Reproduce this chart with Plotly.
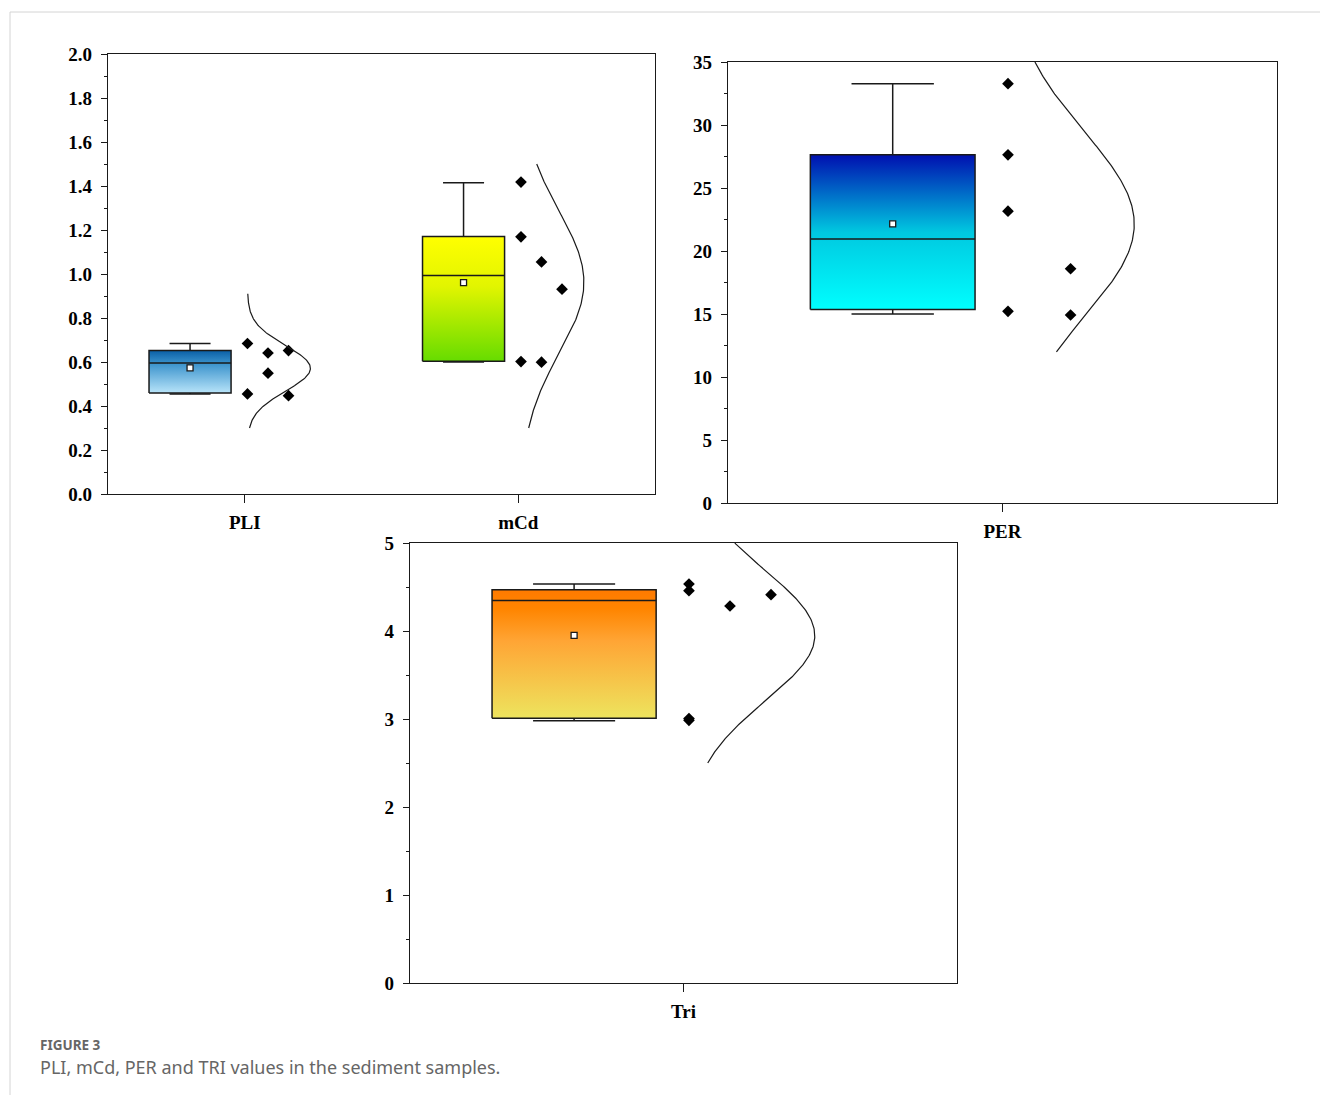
import numpy as np
import plotly.graph_objects as go

# ---------------- data ----------------
categories_top = ["PLI", "mCd"]
PLI = [0.684, 0.455, 0.641, 0.549, 0.652, 0.447]
mCd = [1.418, 1.169, 0.602, 1.055, 0.599, 0.931]
PER = [33.28, 27.63, 23.16, 15.21, 18.59, 14.92]
TRI = [4.534, 4.458, 3.005, 2.985, 4.284, 4.413]

# box statistics as drawn in the reference
box_names = ["PLI", "mCd", "PER", "Tri"]
box_q1 = [0.459, 0.603, 15.35, 3.008]
box_median = [0.596, 0.993, 20.95, 4.348]
box_q3 = [0.652, 1.171, 27.63, 4.47]
box_low = [0.455, 0.600, 15.0, 2.98]
box_high = [0.684, 1.415, 33.28, 4.534]
box_mean = [0.573, 0.961, 22.16, 3.95]

# y-extent of the normal curves
curve_lo = [0.3, 0.3, 12.0, 2.5]
curve_hi = [0.91, 1.5, 35.0, 5.0]

ticks_top = [0.0, 0.2, 0.4, 0.6, 0.8, 1.0, 1.2, 1.4, 1.6, 1.8, 2.0]
ticks_per = [0, 5, 10, 15, 20, 25, 30, 35]
ticks_tri = [0, 1, 2, 3, 4, 5]

# ---------------- layout / styling ----------------
W, H = 1320, 1095
BOX_W = 0.30
BOX_SHIFT = -0.20
PT_COLS_STD = [0.01, 0.085, 0.16]
PT_COLS_PER = [0.01, 0.124]
CURVE_BASE = 0.01
CURVE_AMP = 0.23

gradients = [
    [[0, "#b8e4f9"], [0.7, "#3a92cc"], [1, "#0a5fa6"]],
    [[0, "#66dc00"], [0.6, "#e2f500"], [1, "#ffff00"]],
    [[0, "#00ffff"], [0.5, "#00c8e0"], [1, "#0010b0"]],
    [[0, "#ede45e"], [0.6, "#ffa535"], [0.85, "#ff8500"], [1, "#ff7a00"]],
]

# which column each point falls into (layout only)
point_cols = [
    [0, 0, 1, 1, 2, 2],
    [0, 0, 0, 1, 1, 2],
    [0, 0, 0, 0, 1, 1],
    [0, 0, 0, 0, 1, 2],
]

series = [PLI, mCd, PER, TRI]
positions = [0, 1, 0, 0]
axes = [("x", "y"), ("x", "y"), ("x2", "y2"), ("x3", "y3")]
col_offsets = [PT_COLS_STD, PT_COLS_STD, PT_COLS_PER, PT_COLS_STD]

fig = go.Figure()
LINE = dict(color="#1a1a1a", width=1.5)

for i in range(4):
    xa, ya = axes[i]
    c = positions[i] + BOX_SHIFT
    l, r = c - BOX_W / 2, c + BOX_W / 2
    cap = BOX_W / 4
    # whiskers
    fig.add_trace(go.Scatter(x=[c, c, None, c - cap, c + cap], y=[box_q3[i], box_high[i], None, box_high[i], box_high[i]],
                             mode="lines", line=LINE, xaxis=xa, yaxis=ya, showlegend=False, hoverinfo="skip"))
    fig.add_trace(go.Scatter(x=[c, c, None, c - cap, c + cap], y=[box_q1[i], box_low[i], None, box_low[i], box_low[i]],
                             mode="lines", line=LINE, xaxis=xa, yaxis=ya, showlegend=False, hoverinfo="skip"))
    # box body with vertical gradient
    fig.add_trace(go.Scatter(x=[l, r, r, l, l], y=[box_q1[i], box_q1[i], box_q3[i], box_q3[i], box_q1[i]],
                             mode="lines", fill="toself",
                             fillgradient=dict(type="vertical", colorscale=gradients[i]),
                             line=LINE, xaxis=xa, yaxis=ya, showlegend=False, hoverinfo="skip"))
    # median
    fig.add_trace(go.Scatter(x=[l, r], y=[box_median[i], box_median[i]], mode="lines", line=LINE,
                             xaxis=xa, yaxis=ya, showlegend=False, hoverinfo="skip"))
    # mean
    fig.add_trace(go.Scatter(x=[c], y=[box_mean[i]], mode="markers",
                             marker=dict(symbol="square", size=6, color="white", line=dict(color="#1a1a1a", width=1.3)),
                             xaxis=xa, yaxis=ya, showlegend=False, hoverinfo="skip"))
    # data points
    px = [positions[i] + col_offsets[i][k] for k in point_cols[i]]
    fig.add_trace(go.Scatter(x=px, y=series[i], mode="markers",
                             marker=dict(symbol="diamond", size=9, color="black"),
                             xaxis=xa, yaxis=ya, showlegend=False, name=box_names[i]))
    # normal curve fitted to the data
    m = float(np.mean(series[i]))
    s = float(np.std(series[i], ddof=1))
    yy = np.linspace(curve_lo[i], curve_hi[i], 200)
    xx = positions[i] + CURVE_BASE + CURVE_AMP * np.exp(-0.5 * ((yy - m) / s) ** 2)
    fig.add_trace(go.Scatter(x=xx, y=yy, mode="lines", line=dict(color="#1a1a1a", width=1.2),
                             xaxis=xa, yaxis=ya, showlegend=False, hoverinfo="skip"))

tickfont = dict(family="Liberation Serif", size=19, color="black", weight="bold")
axis_common = dict(showline=True, linecolor="#1a1a1a", linewidth=1.4, mirror=True, showgrid=False,
                   zeroline=False, ticks="outside", tickcolor="#1a1a1a", tickwidth=1.4, tickfont=tickfont,
                   automargin=False)


def dom_x(a, b):
    return [a / W, b / W]


def dom_y(top, bottom):
    return [1 - bottom / H, 1 - top / H]


fig.update_layout(
    width=W, height=H, autosize=False,
    margin=dict(l=0, r=0, t=0, b=0, pad=0, autoexpand=False),
    paper_bgcolor="white", plot_bgcolor="white",
    showlegend=False,
    xaxis=dict(axis_common, domain=dom_x(108, 655), range=[-0.5, 1.5], tickvals=[0, 1],
               ticktext=categories_top, ticklen=8, anchor="y", ticklabelstandoff=3),
    yaxis=dict(axis_common, domain=dom_y(54, 494), range=[0, 2.0], tickvals=ticks_top,
               ticktext=[f"{t:.1f}" for t in ticks_top], ticklen=6, anchor="x", ticklabelstandoff=5,
               minor=dict(ticks="outside", ticklen=3, dtick=0.1, tickcolor="#1a1a1a", tickwidth=1.2)),
    xaxis2=dict(axis_common, domain=dom_x(728, 1277), range=[-0.5, 0.5], tickvals=[0],
                ticktext=["PER"], ticklen=8, anchor="y2", ticklabelstandoff=3),
    yaxis2=dict(axis_common, domain=dom_y(62, 503), range=[0, 35], tickvals=ticks_per, ticklen=6, anchor="x2",
                ticklabelstandoff=5,
                minor=dict(ticks="outside", ticklen=3, dtick=2.5, tickcolor="#1a1a1a", tickwidth=1.2)),
    xaxis3=dict(axis_common, domain=dom_x(410, 957), range=[-0.5, 0.5], tickvals=[0],
                ticktext=["Tri"], ticklen=8, anchor="y3", ticklabelstandoff=3),
    yaxis3=dict(axis_common, domain=dom_y(543, 983), range=[0, 5], tickvals=ticks_tri, ticklen=6, anchor="x3",
                ticklabelstandoff=5,
                minor=dict(ticks="outside", ticklen=3, dtick=0.5, tickcolor="#1a1a1a", tickwidth=1.2)),
)

# light page frame
fx, fy = 10 / W, 1 - 12 / H
fig.add_shape(type="line", xref="paper", yref="paper", x0=fx, y0=fy, x1=1, y1=fy,
              line=dict(color="#d4d4d4", width=1))
fig.add_shape(type="line", xref="paper", yref="paper", x0=fx, y0=fy, x1=fx, y1=0,
              line=dict(color="#d4d4d4", width=1))

# caption
fig.add_annotation(xref="paper", yref="paper", x=39 / W, y=1 - 1045 / H, xanchor="left", yanchor="middle",
                   text="<b>FIGURE 3</b>", showarrow=False, borderpad=0,
                   font=dict(family="Noto Sans", size=13.5, color="#666666"))
fig.add_annotation(xref="paper", yref="paper", x=39 / W, y=1 - 1066.5 / H, xanchor="left", yanchor="middle",
                   text="PLI, mCd, PER and TRI values in the sediment samples.", showarrow=False, borderpad=0,
                   font=dict(family="Noto Sans", size=18, color="#666666"))

post = ("document.body.style.margin='0';document.body.style.overflow='hidden';"
        "var d=document.getElementById('{plot_id}');d.style.position='absolute';"
        "d.style.left='0px';d.style.top='0px';")
fig.write_html("out.html", post_script=post, config={"displayModeBar": False})
